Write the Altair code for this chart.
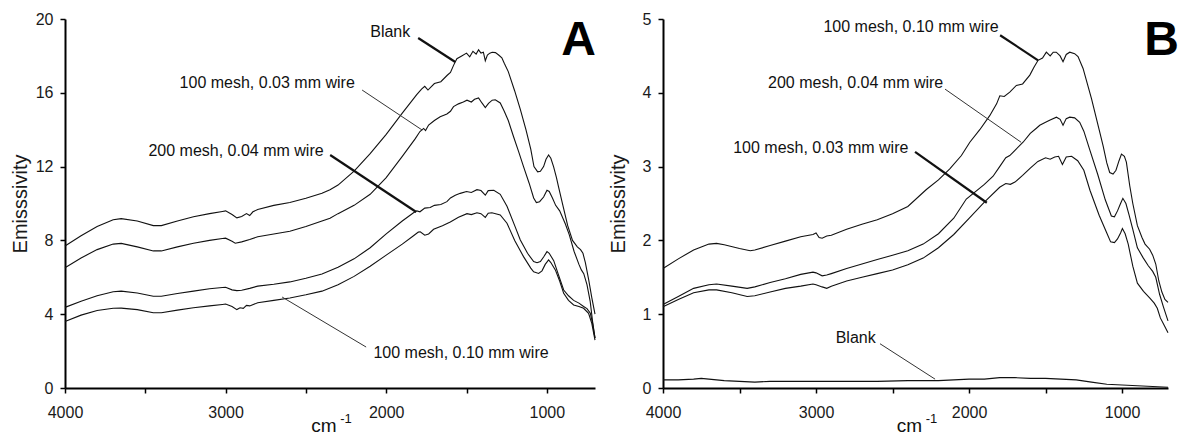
import altair as alt
import pandas as pd

FONT = "Liberation Sans"
INK = "#111111"

# ---------------- Panel A ----------------
a_blank_x = [4000, 3900, 3800, 3700, 3650, 3550, 3450, 3400, 3300, 3200, 3100, 3020, 3000, 2960, 2930, 2900, 2870, 2850, 2830, 2800,
             2700, 2600, 2500, 2400, 2350, 2300, 2200, 2100, 2000, 1900, 1810, 1780, 1760, 1740, 1700, 1660, 1620, 1600, 1580, 1560,
             1530, 1500, 1480, 1460, 1440, 1425, 1410, 1395, 1383, 1370, 1355, 1340, 1320, 1300, 1280, 1265, 1240, 1200, 1165, 1130,
             1100, 1080, 1057, 1040, 1020, 1005, 989, 975, 958, 940, 927, 900, 870, 840, 810, 790, 775, 760, 740, 720, 700]
a_blank_y = [7.70, 8.25, 8.75, 9.12, 9.18, 9.05, 8.80, 8.80, 9.05, 9.28, 9.45, 9.57, 9.60, 9.40, 9.22, 9.30, 9.45, 9.35, 9.55, 9.68,
             9.90, 10.05, 10.28, 10.55, 10.75, 11.0, 11.75, 12.7, 13.75, 14.9, 15.9, 16.2, 16.35, 16.15, 16.5, 16.6, 16.95, 17.1, 17.5, 17.85,
             18.0, 18.15, 17.95, 18.25, 18.1, 18.33, 18.15, 18.2, 17.74, 18.05, 18.15, 18.2, 18.18, 18.05, 17.9, 17.6, 17.15, 16.1, 15.1, 14.0,
             12.95, 12.0, 11.72, 11.75, 12.0, 12.4, 12.63, 12.45, 12.0, 11.4, 10.9, 9.9, 8.8, 8.0, 7.65, 7.5, 7.3, 6.8, 5.9, 4.9, 4.0]

a_m100_03_x = [4000, 3900, 3800, 3700, 3650, 3550, 3450, 3400, 3300, 3200, 3100, 3020, 3000, 2960, 2940, 2900, 2850, 2800, 2700, 2600,
               2500, 2400, 2350, 2300, 2200, 2100, 2000, 1900, 1820, 1790, 1767, 1755, 1736, 1700, 1664, 1622, 1600, 1581, 1550, 1520,
               1497, 1470, 1450, 1425, 1404, 1383, 1363, 1340, 1321, 1290, 1265, 1240, 1207, 1175, 1145, 1110, 1082, 1065, 1045, 1020,
               999, 985, 965, 945, 920, 885, 860, 830, 800, 785, 770, 750, 730, 715, 700]
a_m100_03_y = [6.52, 7.05, 7.50, 7.80, 7.84, 7.65, 7.43, 7.43, 7.65, 7.85, 8.0, 8.10, 8.12, 7.95, 7.85, 7.92, 8.05, 8.20, 8.35, 8.50,
               8.75, 9.05, 9.2, 9.45, 9.9, 10.5, 11.4, 12.55, 13.5, 13.9, 14.07, 13.95, 14.25, 14.5, 14.7, 14.85, 15.0, 15.25, 15.4, 15.5,
               15.6, 15.5, 15.65, 15.72, 15.45, 15.2, 15.43, 15.6, 15.62, 15.45, 15.0, 14.5, 13.62, 12.8, 12.0, 11.1, 10.3, 10.05, 10.1, 10.35,
               10.72, 10.65, 10.3, 9.9, 9.6, 8.9, 8.3, 7.4, 6.7, 6.4, 6.2, 5.6, 4.7, 3.6, 2.7]

a_m200_04_x = [4000, 3900, 3800, 3700, 3650, 3550, 3450, 3400, 3300, 3200, 3100, 3020, 3000, 2960, 2930, 2900, 2850, 2800, 2700, 2600,
               2500, 2400, 2300, 2200, 2100, 2000, 1900, 1830, 1809, 1790, 1760, 1726, 1700, 1660, 1622, 1600, 1570, 1539, 1500, 1470,
               1435, 1410, 1383, 1365, 1330, 1290, 1248, 1200, 1165, 1120, 1082, 1061, 1040, 1020, 999, 985, 957, 930, 895, 865,
               833, 800, 771, 750, 729, 715, 700]
a_m200_04_y = [4.37, 4.70, 5.0, 5.22, 5.25, 5.15, 4.97, 4.97, 5.12, 5.25, 5.38, 5.45, 5.46, 5.32, 5.28, 5.30, 5.40, 5.52, 5.62, 5.75,
               5.95, 6.18, 6.55, 7.0, 7.6, 8.35, 9.05, 9.5, 9.6, 9.55, 9.75, 9.78, 9.9, 9.95, 10.1, 10.3, 10.45, 10.55, 10.65, 10.6,
               10.75, 10.7, 10.45, 10.7, 10.72, 10.5, 9.85, 8.8, 8.02, 7.3, 6.85, 6.79, 6.85, 7.1, 7.39, 7.3, 6.9, 6.2, 5.31, 5.0,
               4.75, 4.6, 4.42, 4.3, 4.05, 3.5, 2.7]

a_m100_10_x = [4000, 3900, 3800, 3700, 3650, 3550, 3450, 3400, 3300, 3200, 3100, 3020, 3000, 2960, 2930, 2910, 2890, 2870, 2850, 2800,
               2700, 2600, 2500, 2400, 2300, 2200, 2100, 2000, 1900, 1830, 1800, 1788, 1760, 1736, 1705, 1650, 1601, 1550, 1497, 1470,
               1435, 1410, 1383, 1365, 1342, 1290, 1248, 1200, 1145, 1100, 1082, 1051, 1030, 1010, 989, 975, 947, 920, 895, 865,
               833, 800, 771, 740, 720, 700]
a_m100_10_y = [3.60, 3.95, 4.2, 4.32, 4.33, 4.25, 4.08, 4.08, 4.22, 4.35, 4.45, 4.53, 4.55, 4.42, 4.25, 4.35, 4.32, 4.48, 4.45, 4.62,
               4.75, 4.88, 5.05, 5.25, 5.6, 6.05, 6.6, 7.2, 7.8, 8.25, 8.45, 8.47, 8.28, 8.35, 8.6, 8.8, 9.0, 9.25, 9.45, 9.4,
               9.5, 9.45, 9.25, 9.47, 9.5, 9.38, 8.93, 8.0, 7.12, 6.5, 6.3, 6.21, 6.35, 6.7, 6.94, 6.8, 6.40, 5.8, 5.13, 4.75,
               4.5, 4.42, 4.32, 4.05, 3.5, 2.6]

# ---------------- Panel B ----------------
b_m100_10_x = [4000, 3900, 3800, 3700, 3650, 3600, 3500, 3430, 3400, 3300, 3200, 3100, 3020, 3000, 2980, 2960, 2930, 2900, 2800, 2700,
               2600, 2500, 2400, 2279, 2200, 2126, 2050, 1995, 1930, 1865, 1820, 1799, 1770, 1734, 1691, 1650, 1603, 1575, 1549, 1520,
               1495, 1470, 1450, 1430, 1405, 1386, 1365, 1342, 1310, 1288, 1255, 1200, 1150, 1124, 1100, 1081, 1059, 1040, 1020, 1004,
               985, 972, 950, 930, 900, 870, 850, 820, 800, 780, 760, 740, 720, 700]
b_m100_10_y = [1.62, 1.75, 1.87, 1.95, 1.96, 1.94, 1.89, 1.86, 1.87, 1.93, 1.99, 2.05, 2.08, 2.10, 2.04, 2.03, 2.06, 2.07, 2.15, 2.22,
               2.28, 2.36, 2.46, 2.69, 2.82, 2.97, 3.15, 3.33, 3.5, 3.69, 3.85, 3.96, 3.95, 4.01, 4.10, 4.12, 4.24, 4.35, 4.44, 4.47,
               4.55, 4.50, 4.55, 4.55, 4.50, 4.42, 4.52, 4.55, 4.53, 4.49, 4.33, 3.92, 3.5, 3.28, 3.05, 2.92, 2.90, 2.95, 3.08, 3.17,
               3.14, 3.06, 2.74, 2.5, 2.2, 2.04, 1.95, 1.88, 1.8, 1.68, 1.45, 1.3, 1.2, 1.16]

b_m200_04_x = [4000, 3900, 3800, 3700, 3650, 3550, 3450, 3400, 3300, 3200, 3100, 3020, 3000, 2960, 2930, 2900, 2800, 2700, 2600, 2500,
               2400, 2300, 2200, 2100, 2018, 1900, 1843, 1800, 1760, 1734, 1700, 1647, 1600, 1560, 1538, 1500, 1470, 1429, 1405, 1386,
               1365, 1342, 1310, 1277, 1250, 1210, 1160, 1110, 1070, 1050, 1030, 1010, 995, 975, 955, 930, 900, 864, 830, 800,
               780, 755, 730, 700]
b_m200_04_y = [1.13, 1.24, 1.35, 1.40, 1.41, 1.38, 1.35, 1.37, 1.43, 1.48, 1.54, 1.57, 1.56, 1.52, 1.53, 1.55, 1.62, 1.68, 1.74, 1.80,
               1.86, 1.95, 2.09, 2.3, 2.56, 2.76, 2.87, 3.0, 3.12, 3.15, 3.22, 3.33, 3.45, 3.52, 3.56, 3.60, 3.63, 3.67, 3.64, 3.56,
               3.65, 3.67, 3.66, 3.6, 3.48, 3.22, 2.9, 2.55, 2.33, 2.32, 2.4, 2.5, 2.57, 2.5, 2.35, 2.15, 1.9, 1.77, 1.66, 1.58,
               1.5, 1.27, 1.1, 0.91]

b_m100_03_x = [4000, 3900, 3800, 3700, 3650, 3550, 3450, 3400, 3300, 3200, 3100, 3020, 3000, 2960, 2930, 2900, 2800, 2700, 2600, 2500,
               2400, 2300, 2200, 2100, 2000, 1900, 1800, 1760, 1730, 1700, 1650, 1600, 1550, 1500, 1470, 1440, 1415, 1390, 1365, 1330,
               1290, 1250, 1210, 1150, 1100, 1075, 1050, 1030, 1010, 998, 980, 960, 930, 900, 860, 820, 790, 770, 750, 725, 700]
b_m100_03_y = [1.10, 1.2, 1.29, 1.33, 1.33, 1.29, 1.24, 1.25, 1.30, 1.35, 1.38, 1.41, 1.40, 1.37, 1.35, 1.38, 1.45, 1.50, 1.55, 1.60,
               1.67, 1.76, 1.90, 2.08, 2.3, 2.52, 2.72, 2.77, 2.76, 2.79, 2.88, 2.98, 3.07, 3.12, 3.10, 3.13, 3.14, 3.03, 3.13, 3.14,
               3.08, 2.95, 2.68, 2.34, 2.1, 1.98, 1.97, 2.02, 2.1, 2.16, 2.09, 1.95, 1.65, 1.42, 1.31, 1.22, 1.15, 1.08, 0.95, 0.85, 0.75]

b_blank_x = [4000, 3900, 3800, 3750, 3700, 3600, 3500, 3400, 3300, 3200, 3100, 3000, 2800, 2600, 2400, 2200, 2000, 1900, 1800, 1700,
             1600, 1500, 1400, 1300, 1200, 1100, 1000, 900, 800, 700]
b_blank_y = [0.11, 0.11, 0.12, 0.13, 0.12, 0.10, 0.09, 0.08, 0.09, 0.09, 0.09, 0.09, 0.09, 0.09, 0.10, 0.10, 0.12, 0.12, 0.14, 0.14,
             0.13, 0.13, 0.12, 0.11, 0.08, 0.05, 0.04, 0.03, 0.02, 0.01]

# ---------------- Annotations (data units) ----------------
a_labels = ["Blank", "100 mesh, 0.03 mm wire", "200 mesh, 0.04 mm wire", "100 mesh, 0.10 mm wire"]
a_label_x = [1975, 2741, 2935, 1534]
a_label_y = [19.04, 16.24, 12.59, 1.61]
a_thick = {"x1": [1801, 2349], "y1": [18.97, 12.63], "x2": [1570, 1813], "y2": [17.67, 9.54]}
a_thin = {"x1": [2150, 2125], "y1": [16.15, 2.22], "x2": [1776, 2648], "y2": [13.98, 4.93]}

b_labels = ["100 mesh, 0.10 mm wire", "200 mesh, 0.04 mm wire", "100 mesh, 0.03 mm wire", "Blank"]
b_label_x = [2379, 2741, 2969, 2741]
b_label_y = [4.82, 4.07, 3.18, 0.616]
b_thick = {"x1": [1797, 2353], "y1": [4.78, 3.20], "x2": [1549, 1884], "y2": [4.44, 2.51]}
b_thin = {"x1": [2157, 2582], "y1": [4.05, 0.60], "x2": [1660, 2222], "y2": [3.33, 0.12]}

x_ticks = [4000, 3500, 3000, 2500, 2000, 1500, 1000]
a_y_ticks = [0, 2, 4, 6, 8, 10, 12, 14, 16, 18, 20]
b_y_ticks = [0, 0.5, 1, 1.5, 2, 2.5, 3, 3.5, 4, 4.5, 5]


def long_df(series):
    frames = []
    for name, xs, ys in series:
        frames.append(pd.DataFrame({"series": name, "wn": xs, "em": ys}))
    return pd.concat(frames, ignore_index=True)


def panel(series, labels, lx, ly, thick, thin, ymax, yticks, ylab_step, width, height, letter, letter_x, title_pad):
    xscale = alt.Scale(domain=[700, 4000], reverse=True, nice=False, zero=False)
    yscale = alt.Scale(domain=[0, ymax], nice=False, zero=False)
    xaxis = alt.Axis(values=x_ticks, format="d", title=None, grid=False, labelFlush=False, labelOverlap=False,
                     labelExpr="datum.value % 1000 == 0 ? datum.label : ''", labelPadding=11)
    yaxis = alt.Axis(values=yticks, format="~g", title="Emisssivity", grid=False, labelOverlap=False,
                     labelExpr=f"datum.value % {ylab_step} == 0 ? datum.label : ''", labelPadding=7,
                     titlePadding=title_pad, titleFontSize=20, titleFontWeight="normal", titleFont=FONT,
                     titleColor="#1a1a1a")
    df = long_df(series)
    lines = alt.Chart(df).mark_line(color=INK, strokeWidth=1.1).encode(
        x=alt.X("wn:Q", scale=xscale, axis=xaxis),
        y=alt.Y("em:Q", scale=yscale, axis=yaxis),
        detail="series:N",
    )
    thick_df = pd.DataFrame({"wn": thick["x1"], "em": thick["y1"], "wn2": thick["x2"], "em2": thick["y2"]})
    thin_df = pd.DataFrame({"wn": thin["x1"], "em": thin["y1"], "wn2": thin["x2"], "em2": thin["y2"]})
    r1 = alt.Chart(thick_df).mark_rule(color=INK, strokeWidth=2.2).encode(
        x=alt.X("wn:Q", scale=xscale), y=alt.Y("em:Q", scale=yscale), x2="wn2:Q", y2="em2:Q")
    r2 = alt.Chart(thin_df).mark_rule(color="#333333", strokeWidth=1).encode(
        x=alt.X("wn:Q", scale=xscale), y=alt.Y("em:Q", scale=yscale), x2="wn2:Q", y2="em2:Q")
    lab_df = pd.DataFrame({"wn": lx, "em": ly, "label": labels})
    txt = alt.Chart(lab_df).mark_text(font=FONT, fontSize=16, color=INK, align="center", baseline="alphabetic").encode(
        x=alt.X("wn:Q", scale=xscale), y=alt.Y("em:Q", scale=yscale), text="label:N")
    let = alt.Chart(pd.DataFrame({"t": [letter]})).mark_text(
        font=FONT, fontSize=48, fontWeight="bold", color="black", align="right", baseline="alphabetic").encode(
        x=alt.value(letter_x), y=alt.value(36), text="t:N")
    cm = alt.Chart(pd.DataFrame({"t": ["cm"]})).mark_text(
        font=FONT, fontSize=19, color=INK, align="center", baseline="alphabetic").encode(
        x=alt.value(width / 2 - 6), y=alt.value(height + 44), text="t:N")
    sup = alt.Chart(pd.DataFrame({"t": ["-1"]})).mark_text(
        font=FONT, fontSize=13, color=INK, align="center", baseline="alphabetic").encode(
        x=alt.value(width / 2 + 16), y=alt.value(height + 35), text="t:N")
    return alt.layer(lines, r1, r2, txt, let, cm, sup).properties(width=width, height=height)


panel_a = panel(
    [("Blank", a_blank_x, a_blank_y), ("100 mesh, 0.03 mm wire", a_m100_03_x, a_m100_03_y),
     ("200 mesh, 0.04 mm wire", a_m200_04_x, a_m200_04_y), ("100 mesh, 0.10 mm wire", a_m100_10_x, a_m100_10_y)],
    a_labels, a_label_x, a_label_y, a_thick, a_thin, 20, a_y_ticks, 4, 530, 369, "A", 531, 5)

panel_b = panel(
    [("100 mesh, 0.10 mm wire", b_m100_10_x, b_m100_10_y), ("200 mesh, 0.04 mm wire", b_m200_04_x, b_m200_04_y),
     ("100 mesh, 0.03 mm wire", b_m100_03_x, b_m100_03_y), ("Blank", b_blank_x, b_blank_y)],
    b_labels, b_label_x, b_label_y, b_thick, b_thin, 5, b_y_ticks, 1, 505, 369, "B", 516, 14)

chart = alt.hconcat(panel_a, panel_b, spacing=10).properties(
    padding={"left": 10, "top": 11, "right": 0, "bottom": 0},
    background="white",
).configure_view(stroke=None).configure_axis(
    domainColor="black", domainWidth=2, tickColor="black", tickWidth=1.5, tickSize=5,
    labelFont=FONT, labelFontSize=16, labelColor="#1a1a1a",
)

chart.save("out.html", embed_options={"renderer": "svg", "actions": False})
